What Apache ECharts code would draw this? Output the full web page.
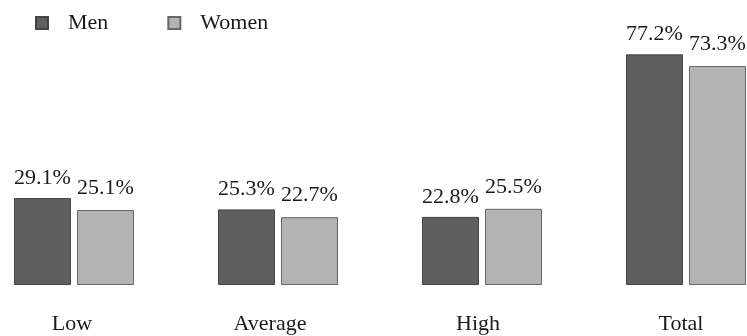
<!DOCTYPE html>
<html>
<head>
<meta charset="utf-8">
<script src="https://cdn.jsdelivr.net/npm/echarts@6/dist/echarts.min.js"></script>
<style>
	html, body { margin: 0; padding: 0; background: #fff; }
	#chart { width: 747px; height: 336px; }
</style>
</head>
<body>
<div id="chart"></div>
<script>
	// 数据
	var categories = ['Low', 'Average', 'High', 'Total'];
	var menValues = [29.1, 25.3, 22.8, 77.2];
	var womenValues = [25.1, 22.7, 25.5, 73.3];

	var serif = '"Liberation Serif", "DejaVu Serif", serif';

	// 类目标签略微左移
	var labelShift = { Low: 4, Average: 16, High: 8, Total: 10 };
	var richLabels = {};
	categories.forEach(function (c, i) {
		richLabels['c' + i] = {
			fontFamily: serif,
			fontSize: 22,
			color: '#1a1a1a',
			padding: [0, labelShift[c], 0, 0]
		};
	});

	var myChart = echarts.init(document.getElementById('chart'));
	var option = {
		animation: false,
		backgroundColor: '#fff',
		legend: {
			left: 35,
			top: 12,
			padding: 0,
			itemWidth: 12,
			itemHeight: 12,
			itemGap: 59,
			icon: 'rect',
			textStyle: {
				fontFamily: serif,
				fontSize: 22,
				color: '#1a1a1a',
				padding: [0, 0, 0, 15]
			},
			data: ['Men', 'Women']
		},
		grid: {
			left: 74,
			right: 61,
			top: 46,
			bottom: 51,
			containLabel: false
		},
		xAxis: {
			type: 'category',
			boundaryGap: false,
			data: categories,
			axisLine: { show: false },
			axisTick: { show: false },
			axisLabel: {
				margin: 28,
				fontFamily: serif,
				fontSize: 22,
				color: '#1a1a1a',
				formatter: function (v, i) { return '{c' + i + '|' + v + '}'; },
				rich: richLabels
			}
		},
		yAxis: {
			type: 'value',
			min: 0,
			max: 80,
			show: false,
			splitLine: { show: false }
		},
		series: [{
			name: 'Men',
			type: 'bar',
			barWidth: 57,
			barGap: '10.5%',
			data: menValues,
			itemStyle: { color: '#5f5f5f', borderColor: '#444', borderWidth: 1 },
			label: {
				show: true,
				position: 'top',
				distance: 9,
				fontFamily: serif,
				fontSize: 22,
				color: '#1a1a1a',
				formatter: function (p) { return p.value.toFixed(1) + '%'; }
			}
		}, {
			name: 'Women',
			type: 'bar',
			barWidth: 57,
			data: womenValues,
			itemStyle: { color: '#b3b3b3', borderColor: '#666', borderWidth: 1 },
			label: {
				show: true,
				position: 'top',
				distance: 11,
				fontFamily: serif,
				fontSize: 22,
				color: '#1a1a1a',
				formatter: function (p) { return p.value.toFixed(1) + '%'; }
			}
		}]
	};
	myChart.setOption(option);
</script>
</body>
</html>
